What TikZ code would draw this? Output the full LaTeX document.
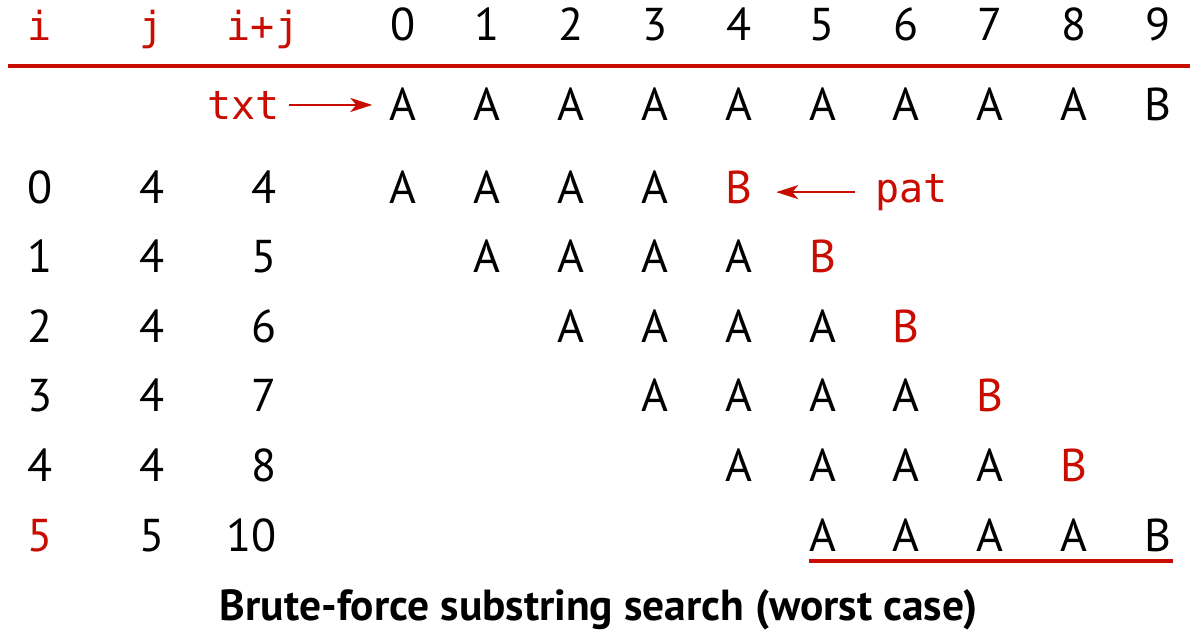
\documentclass[tikz,border=0pt]{standalone}
\usepackage{fontspec}
\setmainfont{PT Sans}
\newfontfamily\monof{DejaVu Sans Mono}
\usetikzlibrary{arrows.meta}
\definecolor{bred}{RGB}{200,12,0}
\begin{document}
\begin{tikzpicture}[x=1pt,y=-1pt,
  big/.style={font=\fontsize{46}{50}\selectfont, inner sep=0pt, anchor=base},
  mono/.style={font=\monof\fontsize{40}{44}\selectfont, inner sep=0pt, anchor=base, text=bred},
  redB/.style={big, text=bred},
  rule/.style={draw=bred, line width=3.5pt},
  arr/.style={draw=bred, line width=2.6pt, -{Stealth[length=22pt,width=14pt,inset=6pt]}},
  ttl/.style={font=\bfseries\fontsize{43.5}{47}\selectfont, inner sep=0pt, anchor=base}]
\useasboundingbox (0,0) rectangle (1200,643);
% header
\node[mono] (hi) at (40,40) {i};
\node[mono] (hj) at (152,40) {j};
\node[mono] (hij) at (263,40) {i+j};
\foreach \k in {0,...,9} \node[big] (h\k) at ({403+83.9*\k},40) {\k};
\coordinate (ruleL) at (8,66);
\coordinate (ruleR) at (1190,66);
\draw[rule] (ruleL) -- (ruleR);
% text row
\foreach \k in {0,...,8} \node[big] (t\k) at ({403+83.9*\k},120) {A};
\node[big] (t9) at ({403+83.9*9},120) {B};
\node[mono, anchor=base east] (txt) at (280,119) {txt};
\draw[arr, shorten <=9pt, shorten >=17pt] (txt.east) -- (txt.east -| t0.west);
% trial rows
\foreach \r/\jj/\s in {0/4/4,1/4/5,2/4/6,3/4/7,4/4/8,5/5/10}{
  \pgfmathsetmacro{\yy}{203+69.6*\r}
  \ifnum\r=5
    \node[redB] (ri\r) at (40,\yy) {\r};
  \else
    \node[big] (ri\r) at (40,\yy) {\r};
  \fi
  \node[big] (rj\r) at (152,\yy) {\jj};
  \node[big, anchor=base east] (rs\r) at (277,\yy) {\s};
  \foreach \m in {0,...,3}{
    \pgfmathtruncatemacro{\cc}{\r+\m}
    \node[big] (p\r c\cc) at ({403+83.9*\cc},\yy) {A};
  }
  \pgfmathtruncatemacro{\cb}{\r+4}
  \ifnum\r=5
    \node[big] (p\r c\cb) at ({403+83.9*\cb},\yy) {B};
  \else
    \node[redB] (p\r c\cb) at ({403+83.9*\cb},\yy) {B};
  \fi
}
\node[mono, anchor=base west] (pat) at (875,202) {pat};
\draw[arr, shorten <=20pt, shorten >=24pt] (pat.west) -- (pat.west -| p0c4.east);
% underline of match
\coordinate (ulL) at (809,561);
\coordinate (ulR) at (1173,561);
\draw[rule] (ulL) -- (ulR);
% title
\node[ttl] (title) at (599,620) {Brute-force substring search (worst case)};
\end{tikzpicture}
\end{document}
